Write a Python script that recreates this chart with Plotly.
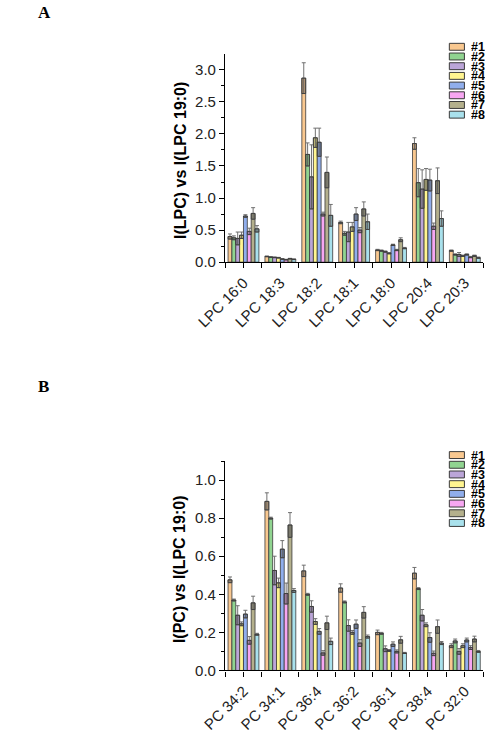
import plotly.graph_objects as go

# ---------------- data ----------------
series_names = ["#1", "#2", "#3", "#4", "#5", "#6", "#7", "#8"]
series_colors = ["#F9C890", "#90D490", "#BBA5D8", "#FFF590", "#90AEEC", "#F7A6F2", "#B4B08C", "#A9E1EC"]

lpc_categories = ["LPC 16:0", "LPC 18:3", "LPC 18:2", "LPC 18:1", "LPC 18:0", "LPC 20:4", "LPC 20:3"]
lpc_1 = [0.40, 0.09, 2.87, 0.62, 0.19, 1.85, 0.18]
lpc_2 = [0.38, 0.08, 1.68, 0.45, 0.18, 1.24, 0.12]
lpc_3 = [0.37, 0.075, 1.33, 0.47, 0.165, 1.14, 0.12]
lpc_4 = [0.42, 0.07, 1.94, 0.55, 0.14, 1.29, 0.10]
lpc_5 = [0.72, 0.05, 1.87, 0.75, 0.27, 1.28, 0.12]
lpc_6 = [0.48, 0.04, 0.75, 0.50, 0.19, 0.56, 0.08]
lpc_7 = [0.76, 0.055, 1.40, 0.83, 0.35, 1.27, 0.10]
lpc_8 = [0.52, 0.045, 0.73, 0.63, 0.22, 0.68, 0.07]
lpc_err_1 = [0.04, 0.005, 0.24, 0.02, 0.01, 0.09, 0.01]
lpc_err_2 = [0.03, 0.005, 0.18, 0.03, 0.01, 0.22, 0.01]
lpc_err_3 = [0.10, 0.005, 0.50, 0.15, 0.01, 0.30, 0.03]
lpc_err_4 = [0.05, 0.005, 0.15, 0.07, 0.01, 0.17, 0.01]
lpc_err_5 = [0.02, 0.005, 0.22, 0.10, 0.01, 0.17, 0.01]
lpc_err_6 = [0.05, 0.005, 0.03, 0.04, 0.01, 0.05, 0.01]
lpc_err_7 = [0.09, 0.005, 0.24, 0.11, 0.03, 0.20, 0.01]
lpc_err_8 = [0.05, 0.005, 0.17, 0.12, 0.01, 0.12, 0.01]

pc_categories = ["PC 34:2", "PC 34:1", "PC 36:4", "PC 36:2", "PC 36:1", "PC 38:4", "PC 32:0"]
pc_1 = [0.476, 0.888, 0.523, 0.433, 0.200, 0.511, 0.13]
pc_2 = [0.37, 0.80, 0.40, 0.36, 0.195, 0.43, 0.155]
pc_3 = [0.29, 0.525, 0.336, 0.236, 0.114, 0.29, 0.10]
pc_4 = [0.245, 0.46, 0.257, 0.20, 0.105, 0.24, 0.13]
pc_5 = [0.296, 0.637, 0.205, 0.243, 0.138, 0.173, 0.16]
pc_6 = [0.158, 0.404, 0.092, 0.144, 0.10, 0.09, 0.12]
pc_7 = [0.355, 0.764, 0.25, 0.305, 0.161, 0.23, 0.165]
pc_8 = [0.19, 0.42, 0.153, 0.178, 0.092, 0.144, 0.10]
pc_err_1 = [0.015, 0.045, 0.03, 0.022, 0.012, 0.03, 0.01]
pc_err_2 = [0.005, 0.005, 0.005, 0.005, 0.005, 0.005, 0.01]
pc_err_3 = [0.05, 0.075, 0.03, 0.03, 0.015, 0.03, 0.015]
pc_err_4 = [0.01, 0.025, 0.015, 0.01, 0.005, 0.01, 0.01]
pc_err_5 = [0.02, 0.045, 0.015, 0.022, 0.012, 0.025, 0.01]
pc_err_6 = [0.02, 0.055, 0.012, 0.018, 0.008, 0.012, 0.01]
pc_err_7 = [0.035, 0.065, 0.035, 0.03, 0.018, 0.035, 0.015]
pc_err_8 = [0.005, 0.01, 0.017, 0.008, 0.003, 0.008, 0.005]

lpc_values = [lpc_1, lpc_2, lpc_3, lpc_4, lpc_5, lpc_6, lpc_7, lpc_8]
lpc_errors = [lpc_err_1, lpc_err_2, lpc_err_3, lpc_err_4, lpc_err_5, lpc_err_6, lpc_err_7, lpc_err_8]
pc_values = [pc_1, pc_2, pc_3, pc_4, pc_5, pc_6, pc_7, pc_8]
pc_errors = [pc_err_1, pc_err_2, pc_err_3, pc_err_4, pc_err_5, pc_err_6, pc_err_7, pc_err_8]

# ---------------- figure ----------------
W, H = 504, 748
FONT = "Arial, Liberation Sans, sans-serif"
fig = go.Figure()

group_w = 0.836
bar_w = group_w / len(series_names)


def add_panel(values, errors, xaxis, yaxis):
    xs = list(range(len(values[0])))
    for i, (vals, errs) in enumerate(zip(values, errors)):
        off = -group_w / 2 + i * bar_w
        fig.add_trace(go.Bar(
            x=xs, y=vals, width=bar_w, offset=off,
            marker=dict(color=series_colors[i], line=dict(color="#3a3a3a", width=0.8)),
            error_y=dict(type="data", array=errs, symmetric=True, color="#707070",
                         thickness=1, width=2),
            name=series_names[i], showlegend=False, xaxis=xaxis, yaxis=yaxis,
        ))
    for i, (vals, errs) in enumerate(zip(values, errors)):
        off = -group_w / 2 + i * bar_w
        fig.add_trace(go.Bar(
            x=xs, y=errs, base=[v - e for v, e in zip(vals, errs)],
            width=bar_w, offset=off,
            marker=dict(color="rgba(60,60,60,0.28)", line=dict(color="#3a3a3a", width=0.8)),
            showlegend=False, hoverinfo="skip", xaxis=xaxis, yaxis=yaxis,
        ))


add_panel(lpc_values, lpc_errors, "x", "y")
add_panel(pc_values, pc_errors, "x2", "y2")

x_dom = [208 / W, 482 / W]
a_dom = [1 - 265 / H, 1 - 55 / H]
b_dom = [1 - 677.7 / H, 1 - 466 / H]

xcommon = dict(
    range=[-0.5, 6.5], tickmode="array", tickvals=list(range(7)), tickangle=-45,
    ticks="outside", ticklen=5, tickwidth=1, tickcolor="black",
    showline=True, linecolor="black", linewidth=1.2, showgrid=False, zeroline=False,
    tickfont=dict(family=FONT, size=15, color="#222"),
    minor=dict(tickmode="linear", tick0=0.5, dtick=1, ticks="outside", ticklen=5,
               tickcolor="black", tickwidth=1, showgrid=False),
    domain=x_dom, fixedrange=True,
)
ycommon = dict(
    ticks="outside", ticklen=5, tickwidth=1, tickcolor="black", tickformat=".1f",
    showline=True, linecolor="black", linewidth=1.2, showgrid=False, zeroline=False,
    tickfont=dict(family=FONT, size=15, color="#222"), fixedrange=True,
)

fig.update_layout(
    width=W, height=H, margin=dict(l=0, r=0, t=0, b=0),
    paper_bgcolor="white", plot_bgcolor="white", barmode="overlay",
    xaxis=dict(xcommon, ticktext=lpc_categories, anchor="y"),
    xaxis2=dict(xcommon, ticktext=pc_categories, anchor="y2"),
    yaxis=dict(ycommon, range=[0, 3.24], dtick=0.5, domain=a_dom, anchor="x",
               minor=dict(dtick=0.25, ticks="outside", ticklen=3, tickcolor="black")),
    yaxis2=dict(ycommon, range=[0, 1.1], dtick=0.2, domain=b_dom, anchor="x2",
                minor=dict(dtick=0.1, ticks="outside", ticklen=3, tickcolor="black")),
    showlegend=False,
)

# y-axis titles
for txt, yc in [("I(LPC) vs I(LPC 19:0)", 162.5), ("I(PC) vs I(LPC 19:0)", 575)]:
    fig.add_annotation(text="<b>%s</b>" % txt, x=160.5 / W, y=1 - yc / H, xref="paper", yref="paper",
                       xanchor="center", yanchor="middle", textangle=-90, showarrow=False,
                       font=dict(family=FONT, size=16, color="black"))

# panel letters
for letter, yy in [("A", 12.5), ("B", 391)]:
    fig.add_annotation(text="<b>%s</b>" % letter, x=7 / W, y=1 - yy / H, xref="paper", yref="paper",
                       xanchor="left", yanchor="middle", showarrow=False,
                       font=dict(family="Liberation Serif, Times New Roman, serif", size=17, color="black"))

# custom compact legends
for y0 in [47.3, 460.0]:
    for i, name in enumerate(series_names):
        cy = y0 + i * 9.8
        fig.add_shape(type="rect", xref="paper", yref="paper",
                      x0=446 / W, x1=462 / W, y0=1 - (cy - 3.5) / H, y1=1 - (cy + 3.5) / H,
                      fillcolor=series_colors[i], line=dict(color="#3a3a3a", width=1))
        fig.add_annotation(text="<b>%s</b>" % name, x=468 / W, y=1 - cy / H, xref="paper", yref="paper",
                           xanchor="left", yanchor="middle", showarrow=False,
                           height=9, valign="middle", borderpad=0,
                           font=dict(family=FONT, size=12.5, color="black"))

fig.write_html("out.html", config={"displayModeBar": False},
               post_script="document.body.style.margin='0';document.body.style.padding='0';")
